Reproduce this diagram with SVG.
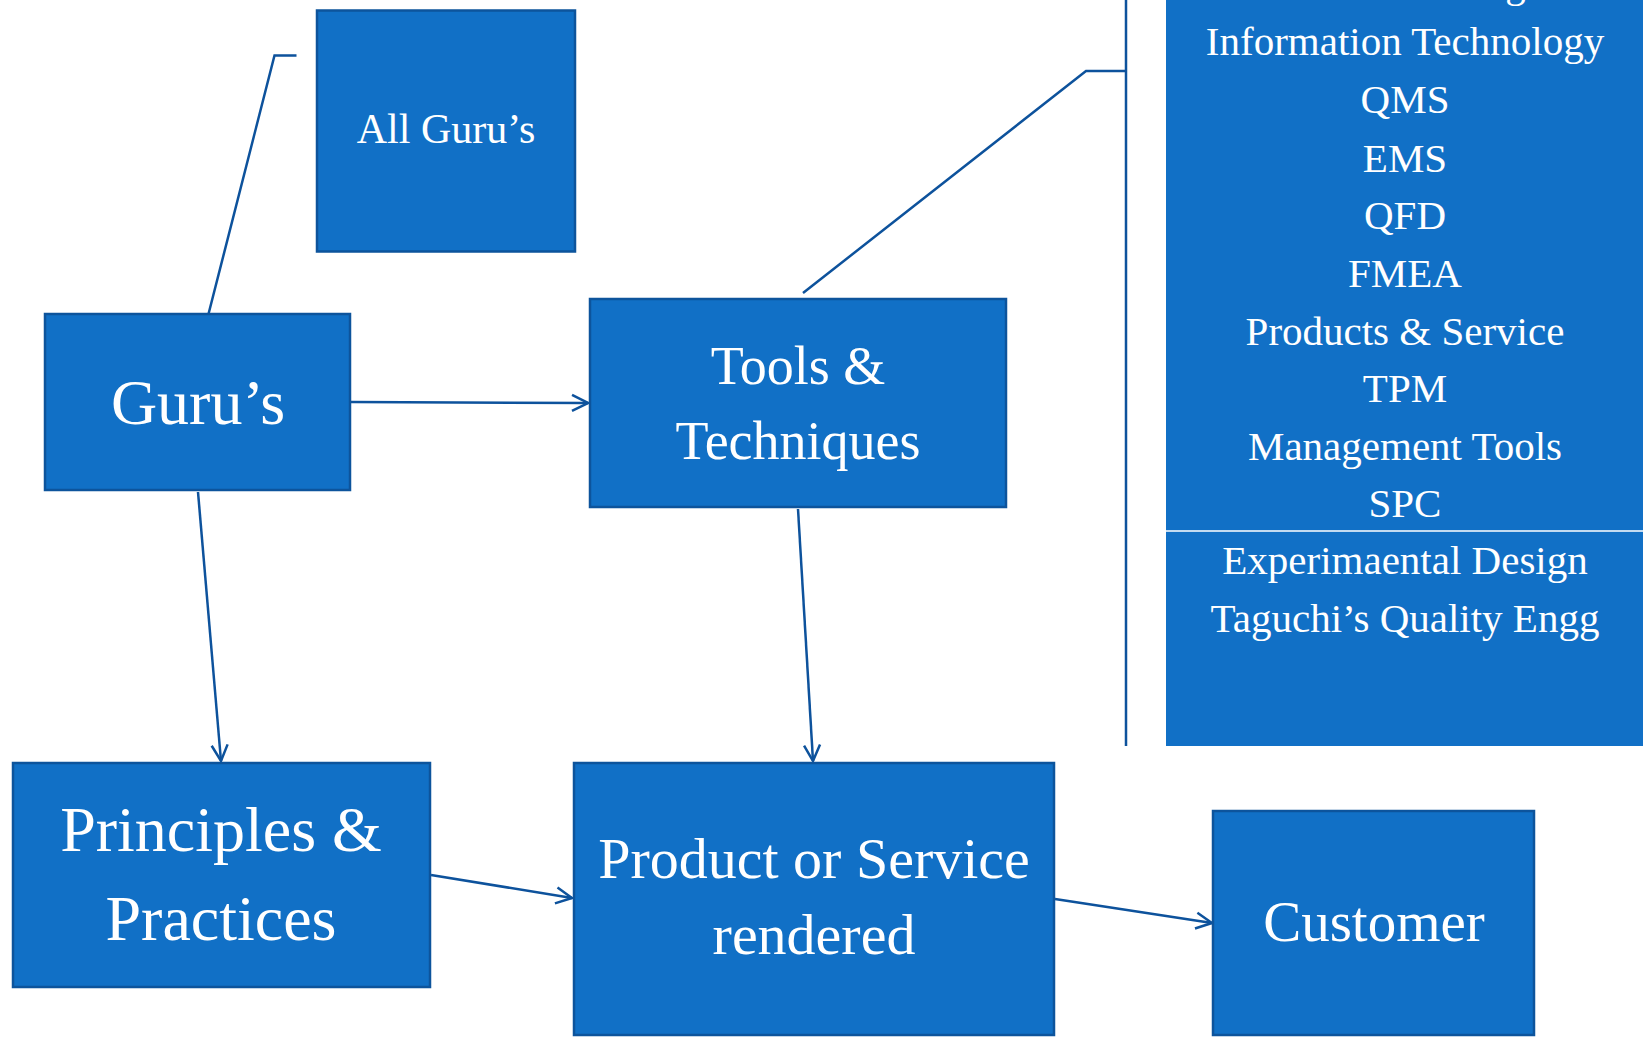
<svg xmlns="http://www.w3.org/2000/svg" width="1643" height="1038" viewBox="0 0 1643 1038">
<style>
.box{fill:#1170C6;stroke:#0D549C;stroke-width:2.5}
.t{font-family:"Liberation Serif","Times New Roman",serif;fill:#FFFFFF;text-anchor:middle}
.c{fill:none;stroke:#0D529C;stroke-width:2.5}
</style>
<defs>
<marker id="ah" markerWidth="20" markerHeight="20" viewBox="-18 -10 20 20" refX="0" refY="0" orient="auto" markerUnits="userSpaceOnUse">
<polyline points="-16,-8 0,0 -16,8" fill="none" stroke="#0D529C" stroke-width="2.5"/>
</marker>
</defs>
<rect width="1643" height="1038" fill="#FFFFFF"/>
<g id="connectors">
<polyline class="c" points="208.5,314 274.5,55.5 296.5,55.5"/>
<polyline class="c" points="803,293 1086,71 1126,71"/>
<line class="c" x1="1126" y1="0" x2="1126" y2="746"/>
<line class="c" x1="351" y1="402" x2="588" y2="403" marker-end="url(#ah)"/>
<line class="c" x1="198" y1="492" x2="221" y2="761" marker-end="url(#ah)"/>
<line class="c" x1="798" y1="509" x2="813" y2="761" marker-end="url(#ah)"/>
<line class="c" x1="431" y1="875" x2="572" y2="898" marker-end="url(#ah)"/>
<line class="c" x1="1055" y1="899" x2="1212" y2="923" marker-end="url(#ah)"/>
</g>
<g id="all-gurus">
<rect class="box" x="317" y="10.5" width="258" height="241"/>
<text class="t" x="446" y="143" font-size="42">All Guru’s</text>
</g>
<g id="gurus">
<rect class="box" x="45" y="314" width="305" height="176"/>
<text class="t" x="198" y="424" font-size="64">Guru’s</text>
</g>
<g id="tools">
<rect class="box" x="590" y="299" width="416" height="208"/>
<text class="t" x="798" y="384" font-size="54">Tools &amp;</text>
<text class="t" x="798" y="459" font-size="54">Techniques</text>
</g>
<g id="principles">
<rect class="box" x="13" y="763" width="417" height="224"/>
<text class="t" x="221" y="851" font-size="64">Principles &amp;</text>
<text class="t" x="221" y="940" font-size="64">Practices</text>
</g>
<g id="product">
<rect class="box" x="574" y="763" width="480" height="272"/>
<text class="t" x="814" y="878" font-size="58">Product or Service</text>
<text class="t" x="814" y="954" font-size="58">rendered</text>
</g>
<g id="customer">
<rect class="box" x="1213" y="811" width="321" height="224"/>
<text class="t" x="1374" y="941" font-size="57">Customer</text>
</g>
<g id="tools-list">
<rect x="1166" y="0" width="477" height="746" fill="#1170C6"/>
<line x1="1166" y1="531" x2="1643" y2="531" stroke="#FFFFFF" stroke-width="1.5"/>
<g class="t" font-size="41">
<text x="1405" y="-3">Benchmarking</text>
<text x="1405" y="55">Information Technology</text>
<text x="1405" y="113">QMS</text>
<text x="1405" y="171.5">EMS</text>
<text x="1405" y="229">QFD</text>
<text x="1405" y="287">FMEA</text>
<text x="1405" y="344.5">Products &amp; Service</text>
<text x="1405" y="402">TPM</text>
<text x="1405" y="460">Management Tools</text>
<text x="1405" y="517">SPC</text>
<text x="1405" y="574">Experimaental Design</text>
<text x="1405" y="632">Taguchi’s Quality Engg</text>
</g>
</g>
</svg>
